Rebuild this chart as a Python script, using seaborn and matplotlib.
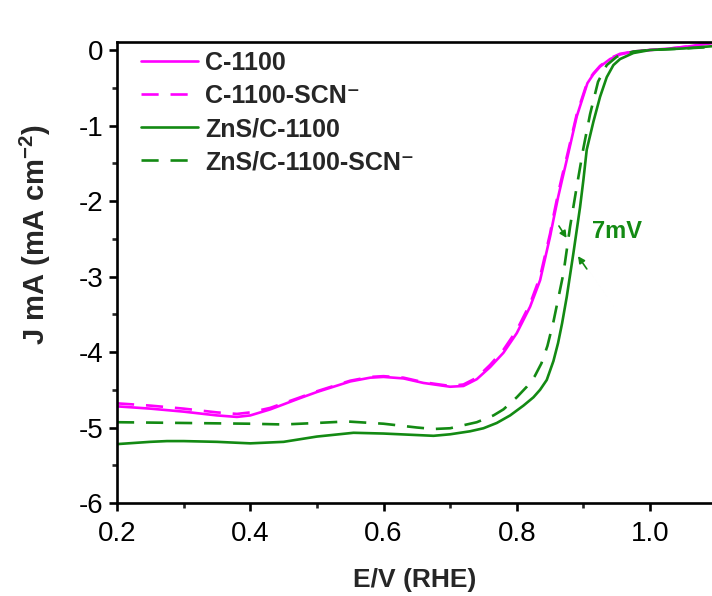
import numpy as np
import pandas as pd
import matplotlib
matplotlib.use("Agg")
import matplotlib.pyplot as plt
import seaborn as sns
from matplotlib.ticker import MultipleLocator

# ---------------- data ----------------
c1100_E = [0.2, 0.25, 0.3, 0.35, 0.38, 0.40, 0.43, 0.475, 0.5, 0.55, 0.58, 0.6, 0.63, 0.66,
           0.7, 0.72, 0.74, 0.76, 0.78, 0.80, 0.82, 0.835, 0.85, 0.855, 0.862, 0.868, 0.876,
           0.89, 0.906, 0.915, 0.925, 0.94, 0.955, 0.975, 1.0, 1.03, 1.06, 1.093]
c1100_J = [-4.72, -4.75, -4.79, -4.84, -4.86, -4.84, -4.76, -4.61, -4.53, -4.39, -4.34, -4.33, -4.35, -4.41,
           -4.46, -4.45, -4.36, -4.2, -4.01, -3.75, -3.4, -3.05, -2.47, -2.25, -1.95, -1.72, -1.42,
           -0.88, -0.44, -0.32, -0.22, -0.12, -0.06, -0.02, 0.0, 0.02, 0.05, 0.10]

c1100scn_E = [0.2, 0.25, 0.3, 0.35, 0.38, 0.40, 0.43, 0.475, 0.5, 0.55, 0.58, 0.6, 0.63, 0.66,
              0.7, 0.72, 0.74, 0.76, 0.78, 0.80, 0.82, 0.835, 0.85, 0.855, 0.862, 0.868, 0.876,
              0.89, 0.906, 0.915, 0.925, 0.94, 0.955, 0.975, 1.0, 1.03, 1.06, 1.093]
c1100scn_J = [-4.68, -4.71, -4.75, -4.80, -4.82, -4.80, -4.74, -4.60, -4.52, -4.38, -4.33, -4.32, -4.34, -4.40,
              -4.45, -4.43, -4.34, -4.17, -3.97, -3.71, -3.36, -3.0, -2.43, -2.2, -1.9, -1.67, -1.38,
              -0.85, -0.42, -0.31, -0.21, -0.11, -0.05, -0.02, 0.0, 0.02, 0.05, 0.09]

zns_E = [0.2, 0.25, 0.275, 0.3, 0.35, 0.4, 0.45, 0.5, 0.555, 0.6, 0.65, 0.675, 0.7, 0.73, 0.75, 0.77,
         0.79, 0.81, 0.825, 0.835, 0.845, 0.855, 0.862, 0.868, 0.875, 0.885, 0.895, 0.90, 0.905, 0.915,
         0.925, 0.935, 0.945, 0.955, 0.975, 1.0, 1.05, 1.093]
zns_J = [-5.22, -5.19, -5.18, -5.18, -5.19, -5.21, -5.19, -5.12, -5.07, -5.08, -5.10, -5.11, -5.09, -5.05, -5.01, -4.94,
         -4.84, -4.71, -4.6, -4.5, -4.37, -4.12, -3.88, -3.62, -3.27, -2.69, -2.08, -1.72, -1.32, -0.95,
         -0.62, -0.36, -0.2, -0.12, -0.04, 0.0, 0.02, 0.05]

znsscn_E = [0.2, 0.3, 0.4, 0.45, 0.5, 0.545, 0.6, 0.65, 0.675, 0.7, 0.74, 0.765, 0.78, 0.8, 0.815,
            0.827, 0.837, 0.846, 0.855, 0.87, 0.88, 0.89, 0.9, 0.91, 0.922, 0.935, 0.95, 0.975, 1.0, 1.05, 1.093]
znsscn_J = [-4.93, -4.94, -4.95, -4.96, -4.94, -4.92, -4.95, -5.0, -5.02, -5.01, -4.93, -4.84, -4.76, -4.6, -4.46,
            -4.32, -4.15, -3.92, -3.6, -2.96, -2.34, -1.81, -1.3, -0.85, -0.42, -0.2, -0.09, -0.02, 0.0, 0.02, 0.04]

labels = ["C-1100", "C-1100-SCN\u207b", "ZnS/C-1100", "ZnS/C-1100-SCN\u207b"]
x_ticks = [0.2, 0.4, 0.6, 0.8, 1.0]
y_ticks = [0, -1, -2, -3, -4, -5, -6]

MAGENTA = "#ff00ff"
GREEN = "#138a13"

# ---------------- style ----------------
sns.set_style("ticks")
plt.rcParams["font.family"] = ["Liberation Sans", "DejaVu Sans"]
plt.rcParams["mathtext.fontset"] = "custom"
plt.rcParams["mathtext.rm"] = "Liberation Sans"
plt.rcParams["mathtext.bf"] = "Liberation Sans:bold"

fig = plt.figure(figsize=(7.12, 5.96), dpi=100)
ax = fig.add_axes([117 / 712, 1 - 503 / 596, 1 - 117 / 712, (503 - 42) / 596])

series = [
    (c1100_E, c1100_J, MAGENTA, "-"),
    (c1100scn_E, c1100scn_J, MAGENTA, "--"),
    (zns_E, zns_J, GREEN, "-"),
    (znsscn_E, znsscn_J, GREEN, "--"),
]
lw = 1.9
for (E, J, col, ls), lab in zip(series, labels):
    df = pd.DataFrame({"E": E, "J": J})
    sns.lineplot(data=df, x="E", y="J", color=col, lw=lw, label=lab, ax=ax)
    line = ax.lines[-1]
    if ls == "--":
        line.set_dashes((6.5, 4.5))

ax.set_xlim(0.2, 1.093)
ax.set_ylim(-6, 0.106)
ax.set_xticks(x_ticks)
ax.set_xticklabels([f"{v:.1f}" for v in x_ticks])
ax.set_yticks(y_ticks)
ax.set_yticklabels([f"{v:d}" for v in y_ticks])
ax.xaxis.set_minor_locator(MultipleLocator(0.1))
ax.yaxis.set_minor_locator(MultipleLocator(0.5))

for s in ["left", "bottom", "top"]:
    ax.spines[s].set_linewidth(1.9)
    ax.spines[s].set_color("black")
ax.spines["right"].set_visible(False)

ax.tick_params(which="major", direction="out", length=6, width=1.9, labelsize=20,
               colors="black", top=False, right=False)
ax.tick_params(axis="x", which="major", pad=7)
ax.tick_params(axis="y", which="major", pad=4)
ax.tick_params(which="minor", direction="out", length=3.5, width=1.9, top=False, right=False)

ax.set_xlabel("E/V (RHE)", fontsize=19, fontweight="bold", labelpad=15)
ax.set_ylabel(r"J mA (mA cm$\mathbf{^{-2}}$)", fontsize=21, fontweight="bold")
ax.yaxis.set_label_coords(-(117 - 53) / 595, (503 - 235) / 461)

leg = ax.legend(loc="upper left", bbox_to_anchor=(0.04, 0.98), frameon=False,
                fontsize=18, handlelength=2.3, handletextpad=0.28, labelspacing=0.36,
                borderpad=0, borderaxespad=0)
for t in leg.get_texts():
    t.set_fontweight("bold")
for h in leg.get_lines():
    h.set_linewidth(lw)

# annotation of the 7 mV shift
ax.text(0.913, -2.41, "7mV", color=GREEN, fontsize=17, fontweight="bold",
        ha="left", va="center")
ax.annotate("", xy=(0.877, -2.52), xytext=(0.861, -2.3),
            arrowprops=dict(arrowstyle="-|>", color=GREEN, lw=1.2, mutation_scale=10))
ax.annotate("", xy=(0.8895, -2.7), xytext=(0.9075, -2.93),
            arrowprops=dict(arrowstyle="-|>", color=GREEN, lw=1.2, mutation_scale=10))

fig.savefig("out.png", dpi=100)
